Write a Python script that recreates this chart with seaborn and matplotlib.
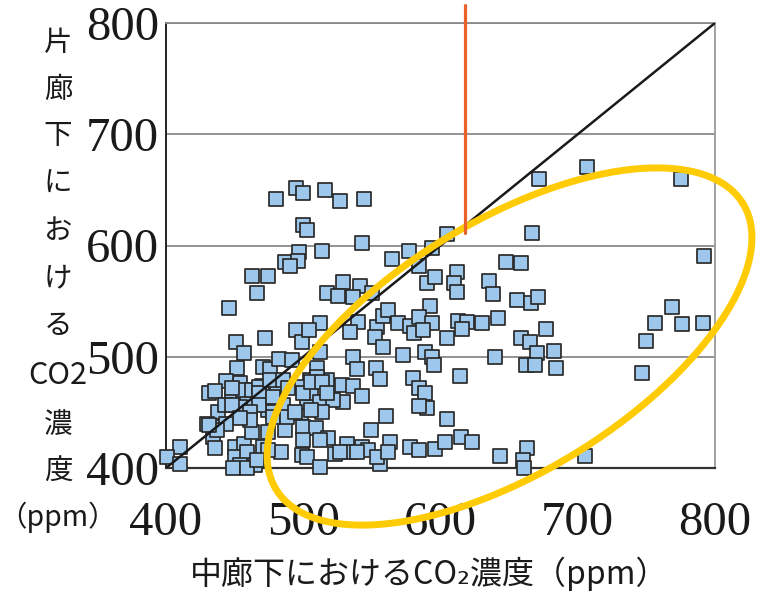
import numpy as np
import pandas as pd
import matplotlib
matplotlib.use("Agg")
import matplotlib.pyplot as plt
import seaborn as sns

# CO2 concentration (ppm): central corridor (x) vs. one-sided corridor (y)
center_co2 = [
    480, 495, 500, 516, 527, 544, 500, 503, 543, 497, 514, 487, 496, 490, 565, 577, 584, 463,
    474, 529, 541, 594, 590, 596, 605, 672, 707, 775, 667, 792, 648, 659, 612, 610, 635,
    466, 446, 451, 457, 472, 495, 499, 452, 454, 444, 431, 436, 471, 476, 482, 470, 448, 438,
    430, 436, 434, 436, 410, 401, 410, 450, 457, 450, 459, 454, 465, 471, 484, 463, 474, 487,
    474, 466, 459, 456, 463, 481, 485, 478, 498, 503, 500, 448, 443, 454, 499, 492,
    517, 525, 536, 550, 592, 512, 540, 534, 554, 558, 562, 552, 558, 569, 578, 581, 584, 594,
    587, 605, 536, 539, 553, 556, 573, 589, 594, 595, 580, 584, 589, 590, 584, 560, 549, 605,
    506, 512, 517, 528, 536, 543, 529, 522, 514, 506, 509, 518, 512, 503, 512, 500, 523, 532,
    534, 543, 547, 556, 554, 563, 562, 578, 584, 596, 603, 504, 512, 510, 505, 498,
    612, 638, 656, 666, 671, 613, 619, 616, 630, 642, 659, 665, 677, 670, 683, 640, 662, 669,
    684, 614, 615, 623, 643, 663, 660, 661, 705,
    769, 756, 776, 791, 750, 747,
    527, 539, 449, 459, 474, 466, 510, 448, 468, 468, 468, 478, 478, 488, 494, 461, 461, 454,
    444, 437, 431, 500, 506, 514, 517, 476, 485, 489,
]
side_co2 = [
    642, 652, 647, 650, 640, 642, 618, 614, 602, 594, 595, 585, 586, 582, 588, 595, 582, 573,
    573, 567, 564, 598, 566, 572, 610, 660, 671, 660, 611, 591, 585, 584, 576, 566, 568,
    557, 544, 513, 503, 517, 524, 513, 490, 476, 478, 467, 469, 491, 489, 498, 474, 463, 450,
    440, 437, 428, 418, 419, 410, 404, 419, 422, 410, 414, 403, 403, 419, 414, 432, 432, 434,
    452, 458, 458, 470, 470, 468, 457, 450, 449, 459, 437, 472, 457, 455, 412, 497,
    557, 555, 554, 557, 546, 530, 531, 522, 527, 537, 542, 518, 509, 530, 528, 521, 536, 530,
    524, 517, 500, 489, 490, 480, 502, 504, 500, 493, 481, 472, 467, 454, 456, 447, 434, 444,
    467, 459, 479, 475, 474, 465, 459, 461, 450, 452, 436, 427, 425, 410, 401, 425, 413, 422,
    414, 419, 416, 404, 410, 423, 414, 419, 416, 417, 423, 524, 504, 490, 479, 473,
    558, 556, 551, 548, 554, 532, 531, 525, 530, 535, 517, 513, 525, 503, 505, 500, 493, 493,
    490, 483, 428, 423, 411, 418, 407, 400, 411,
    545, 530, 529, 530, 514, 485,
    414, 414, 400, 400, 416, 407, 482, 457, 473, 467, 457, 464, 446, 446, 450, 450, 443, 445,
    440, 434, 439, 467, 477, 477, 467, 479, 479, 472,
]

axis_ticks = [400, 500, 600, 700, 800]
threshold = 611          # reference level marked by the vertical line
x_label = "中廊下におけるCO\u2082濃度（ppm）"
y_label_chars = ["片", "廊", "下", "に", "お", "け", "る", "CO2", "濃", "度", "（ppm）"]

df = pd.DataFrame({"center": center_co2, "side": side_co2})

sns.set_theme(style="white")
plt.rcParams["font.family"] = ["Noto Sans CJK JP", "DejaVu Sans"]

W, H = 769, 597
fig = plt.figure(figsize=(W / 100, H / 100), dpi=100)
ax = fig.add_axes([166 / W, 129 / H, 549 / W, 445 / H])

sns.scatterplot(data=df, x="center", y="side", marker="s", s=112,
                color="#9DC8EC", edgecolor="#2a2a2a", linewidth=1.25,
                ax=ax, zorder=3, legend=False, clip_on=False)

ax.set_xlim(400, 800)
ax.set_ylim(400, 800)
ax.set_xticks(axis_ticks)
ax.set_yticks(axis_ticks)
ax.yaxis.grid(True, color="#8a8a8a", lw=1.3)
ax.set_axisbelow(True)

for side, col, lw in [("left", "#222222", 1.4), ("bottom", "#333333", 1.6),
                      ("top", "#8a8a8a", 1.3), ("right", "#9a9a9a", 1.3)]:
    ax.spines[side].set_color(col)
    ax.spines[side].set_linewidth(lw)
    ax.spines[side].set_visible(True)

ax.tick_params(axis="x", direction="in", length=5, width=1, color="#888888",
               pad=24, labelsize=35, labelfontfamily="Liberation Serif", labelcolor="#1a1a1a")
ax.tick_params(axis="y", length=0, pad=5, labelsize=35,
               labelfontfamily="Liberation Serif", labelcolor="#1a1a1a")
ax.set_xlabel("")
ax.set_ylabel("")

# 1:1 line
ax.plot(axis_ticks[::4], axis_ticks[::4], color="#1a1a1a", lw=1.8, zorder=4)

# highlighted region (ellipse defined in screen space)
cx, cy = ax.transData.transform((650.3, 509.2))
t = np.linspace(0, 2 * np.pi, 500)
th = np.deg2rad(31.5)
a, b = 273.7, 125.5
ex = cx + a * np.cos(t) * np.cos(th) - b * np.sin(t) * np.sin(th)
ey = cy + a * np.cos(t) * np.sin(th) + b * np.sin(t) * np.cos(th)
pts = ax.transData.inverted().transform(np.column_stack([ex, ey]))
ax.plot(pts[:, 0], pts[:, 1], color="#FFCB05", lw=5, clip_on=False, zorder=5)

# vertical marker
ax.plot([618, 618], [threshold, 816], color="#E8622A", lw=2.3, clip_on=False, zorder=6)

# axis titles
fig.text(429 / W, 1 - 574 / H, x_label, ha="center", va="center", fontsize=23,
         color="#1a1a1a", family=["Noto Sans CJK JP", "DejaVu Sans"])
y_pos = [43, 90, 136, 184, 231, 278, 326, 375, 425, 472, 517]
for ch, yp in zip(y_label_chars, y_pos):
    size = 22 if ch == "CO2" else 20.5
    fig.text(58 / W, 1 - yp / H, ch, ha="center", va="center", fontsize=size, color="#1a1a1a")

fig.savefig("out.png", dpi=100, facecolor="white")
